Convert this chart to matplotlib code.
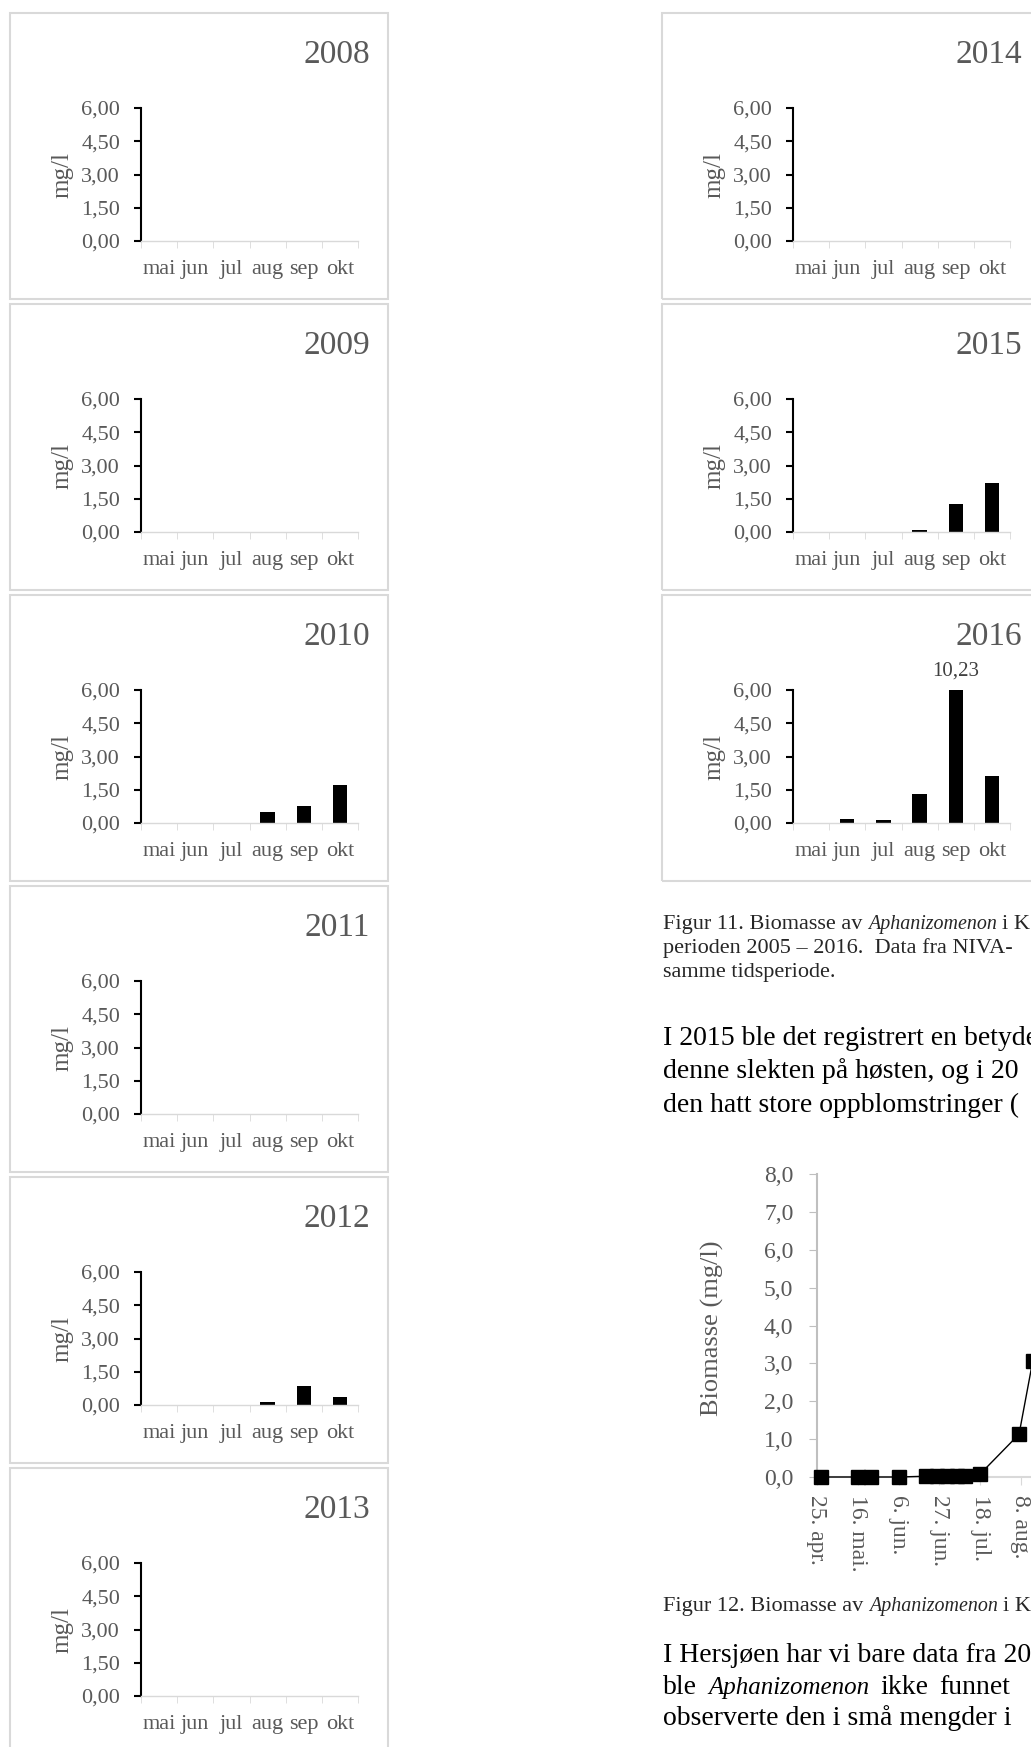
import matplotlib
matplotlib.use("Agg")
import matplotlib.pyplot as plt
from matplotlib.patches import Rectangle
from matplotlib.ticker import FixedLocator, FuncFormatter

plt.rcParams['font.family'] = 'Liberation Serif'

# Data: biomasse av Aphanizomenon (mg/l) per måned
maaneder = ['mai', 'jun', 'jul', 'aug', 'sep', 'okt']
aar_venstre = [2008, 2009, 2010, 2011, 2012, 2013]
aar_hoyre = [2014, 2015, 2016]

bio_2008 = [0, 0, 0, 0, 0, 0]
bio_2009 = [0, 0, 0, 0.02, 0, 0]
bio_2010 = [0, 0, 0, 0.49, 0.76, 1.71]
bio_2011 = [0, 0, 0, 0, 0, 0]
bio_2012 = [0, 0, 0, 0.15, 0.87, 0.36]
bio_2013 = [0, 0, 0, 0, 0, 0]
bio_2014 = [0, 0, 0, 0, 0, 0]
bio_2015 = [0, 0, 0, 0.09, 1.26, 2.21]
bio_2016 = [0, 0.18, 0.15, 1.31, 10.23, 2.14]

serie = {2008: bio_2008, 2009: bio_2009, 2010: bio_2010, 2011: bio_2011,
         2012: bio_2012, 2013: bio_2013, 2014: bio_2014, 2015: bio_2015,
         2016: bio_2016}

# Figur 12: dager etter 25. april og biomasse (mg/l)
dager = [2, 21, 28, 42, 56, 62, 67, 72, 76, 84, 104, 111]
biomasse = [0, 0, 0, 0, 0.02, 0.03, 0.02, 0.02, 0.02, 0.08, 1.13, 3.05]
dato_etiketter = ['25. apr.', '16. mai.', '6. jun.', '27. jun.', '18. jul.', '8. aug.']

W, H = 1031, 1747
GRAA = '#595959'
fig = plt.figure(figsize=(W / 100, H / 100), dpi=100)


def akse_px(left, top, width, height):
    return fig.add_axes([left / W, 1 - (top + height) / H, width / W, height / H])


def komma(v, p, des=2):
    return f"{v:.{des}f}".replace('.', ',')


def panel(x0, top, aar, verdier):
    boks = Rectangle((x0 / W, 1 - (top + 286) / H), 378 / W, 286 / H,
                     transform=fig.transFigure, fill=False,
                     edgecolor='#d9d9d9', lw=1.5)
    fig.patches.append(boks)
    ax = akse_px(x0 + 131, top + 95, 217, 133)
    ax.bar(range(len(maaneder)), verdier, width=0.4, color='black')
    ax.set_xlim(-0.5, 5.5)
    ax.set_ylim(0, 6)
    for i, v in enumerate(verdier):
        if v > 6:
            ax.annotate(komma(v, None), (i, 6), xytext=(0, 14), textcoords='offset points',
                        ha='center', va='center', fontsize=15, color='#404040')
    ax.spines['top'].set_visible(False)
    ax.spines['right'].set_visible(False)
    ax.spines['left'].set_color('black')
    ax.spines['left'].set_linewidth(1.5)
    ax.spines['bottom'].set_color('#d9d9d9')
    ax.spines['bottom'].set_linewidth(1)
    ax.yaxis.set_major_locator(FixedLocator([0, 1.5, 3, 4.5, 6]))
    ax.yaxis.set_major_formatter(FuncFormatter(komma))
    ax.tick_params(axis='y', length=5, width=1.5, color='black', pad=10,
                   labelsize=16, labelcolor=GRAA)
    ax.set_xticks(range(len(maaneder)))
    ax.set_xticklabels(maaneder)
    ax.set_xticks([i - 0.5 for i in range(len(maaneder) + 1)], minor=True)
    ax.tick_params(axis='x', which='major', length=0, pad=14, labelsize=16, labelcolor=GRAA)
    ax.tick_params(axis='x', which='minor', length=5, color='#d9d9d9')
    fig.text((x0 + 52) / W, 1 - (top + 162) / H, 'mg/l', rotation=90,
             ha='center', va='center', fontsize=18, color=GRAA)
    fig.text((x0 + 360) / W, 1 - (top + 42) / H, str(aar), ha='right',
             va='center', fontsize=24, color=GRAA)


topper = [13, 304, 595, 886, 1177, 1468]
for aar, top in zip(aar_venstre, topper):
    panel(10, top, aar, serie[aar])
for aar, top in zip(aar_hoyre, topper):
    panel(662, top, aar, serie[aar])

# Figur 12 linjediagram
px_per_dag = 40.8 / 21
ax = akse_px(817, 1174, 514, 303)
ax.plot(dager, biomasse, color='black', lw=1, marker='s', markersize=9.5,
        clip_on=False, zorder=3)
ax.set_xlim(0, 514 / px_per_dag)
ax.set_ylim(0, 8)
ax.spines['top'].set_visible(False)
ax.spines['right'].set_visible(False)
ax.spines['left'].set_color('#bfbfbf')
ax.spines['left'].set_linewidth(1.5)
ax.spines['bottom'].set_color('#d9d9d9')
ax.spines['bottom'].set_linewidth(1.5)
ax.yaxis.set_major_locator(FixedLocator(range(0, 9)))
ax.yaxis.set_major_formatter(FuncFormatter(lambda v, p: komma(v, p, 1)))
ax.tick_params(axis='y', length=6, color='#bfbfbf', pad=11, labelsize=17, labelcolor=GRAA)
ax.set_xticks([21 * i for i in range(len(dato_etiketter))])
ax.set_xticklabels(dato_etiketter, rotation=270, va='top', ha='center')
ax.tick_params(axis='x', length=6, color='#d9d9d9', pad=7, labelsize=17, labelcolor=GRAA)
fig.text(712 / W, 1 - 1328 / H, 'Biomasse (mg/l)', rotation=90, ha='center',
         va='center', fontsize=19, color=GRAA)

# Tekst på siden
renderer = fig.canvas.get_renderer()


def skriv(x_px, y_px, deler, size, color, ekstra=1.0):
    x = x_px
    rom = size * 100 / 72 * 0.25 * ekstra
    for tekst, stil in deler:
        storrelse = size * 0.9 if stil == 'italic' else size
        t = fig.text(x / W, 1 - y_px / H, tekst, fontsize=storrelse, style=stil,
                     color=color, ha='left', va='baseline')
        x += t.get_window_extent(renderer).width + rom


KAP = '#262626'
skriv(663, 929, [('Figur 11. Biomasse av', 'normal'), ('Aphanizomenon', 'italic'),
                 ('i K', 'normal')], 16, KAP)
skriv(663, 953, [('perioden 2005 – 2016.  Data fra NIVA-', 'normal')], 16, KAP)
skriv(663, 977, [('samme tidsperiode.', 'normal')], 16, KAP)

skriv(663, 1045, [('I 2015 ble det registrert en betyde', 'normal')], 20, 'black')
skriv(663, 1078, [('denne slekten på høsten, og i 20', 'normal')], 20, 'black')
skriv(663, 1112, [('den hatt store oppblomstringer (', 'normal')], 20, 'black')

skriv(663, 1611, [('Figur 12. Biomasse av', 'normal'), ('Aphanizomenon', 'italic'),
                  ('i K', 'normal')], 16, KAP)
skriv(663, 1662, [('I Hersjøen har vi bare data fra 20', 'normal')], 20, 'black')
skriv(663, 1694, [('ble', 'normal'), ('Aphanizomenon', 'italic'), ('ikke', 'normal'),
                  ('funnet', 'normal')], 20, 'black', ekstra=1.6)
skriv(663, 1725, [('observerte den i små mengder i', 'normal')], 20, 'black')

fig.savefig('out.png', dpi=100)
